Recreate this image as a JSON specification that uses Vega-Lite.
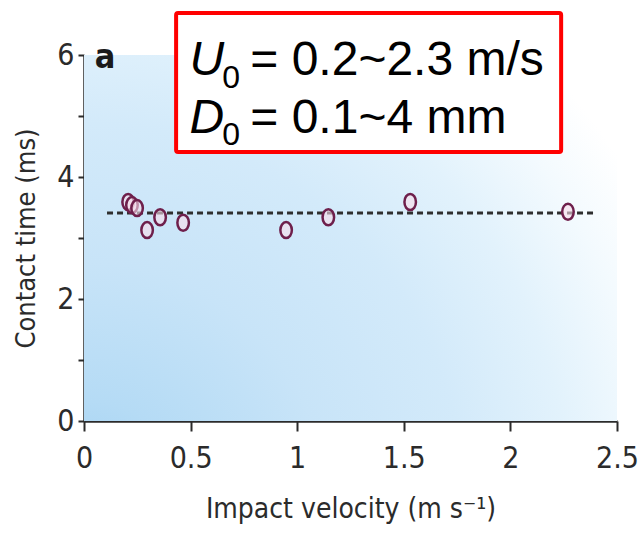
{
  "$schema": "https://vega.github.io/schema/vega-lite/v6.json",
  "width": 533,
  "height": 366,
  "autosize": {"type": "none"},
  "padding": {"left": 84, "top": 55, "right": 23, "bottom": 118},
  "background": "white",
  "config": {
    "view": {"stroke": null},
    "axis": {
      "labelFont": "'DejaVu Sans Condensed', 'Liberation Sans', sans-serif",
      "titleFont": "'DejaVu Sans Condensed', 'Liberation Sans', sans-serif",
      "labelColor": "#2b2b2b",
      "titleColor": "#2b2b2b",
      "titleFontWeight": "normal",
      "domainColor": "#2b2b2b",
      "tickColor": "#2b2b2b",
      "domainWidth": 2.5,
      "tickWidth": 2,
      "grid": false
    }
  },
  "layer": [
    {
      "data": {"values": [{"x": 0, "x2": 2.5, "y": 0, "y2": 6}]},
      "mark": {
        "type": "rect",
        "fill": {
          "gradient": "radial",
          "x1": 0, "y1": 1, "x2": 0, "y2": 1, "r1": 0, "r2": 1.3,
          "stops": [
            {"offset": 0, "color": "#9dcff2"},
            {"offset": 0.15, "color": "#b5dbf5"},
            {"offset": 0.35, "color": "#c8e4f8"},
            {"offset": 0.55, "color": "#d3eafa"},
            {"offset": 0.7, "color": "#e2f2fc"},
            {"offset": 0.82, "color": "#f3fafe"},
            {"offset": 0.92, "color": "#ffffff"}
          ]
        }
      },
      "encoding": {
        "x": {
          "field": "x", "type": "quantitative",
          "scale": {"domain": [0, 2.5], "nice": false, "zero": false},
          "axis": {
            "title": "Impact velocity (m s⁻¹)",
            "values": [0, 0.5, 1, 1.5, 2, 2.5],
            "format": "~g",
            "labelFontSize": 30,
            "titleFontSize": 28,
            "tickSize": 10,
            "labelPadding": 12,
            "titlePadding": 22,
            "labelFlush": false,
            "labelOverlap": false
          }
        },
        "x2": {"field": "x2"},
        "y": {
          "field": "y", "type": "quantitative",
          "scale": {"domain": [0, 6], "nice": false, "zero": false},
          "axis": {
            "title": "Contact time (ms)",
            "values": [0, 1, 2, 3, 4, 5, 6],
            "labelExpr": "datum.value % 2 == 0 ? format(datum.value, 'd') : ''",
            "labelFontSize": 30,
            "titleFontSize": 27,
            "tickSize": 6,
            "labelPadding": 4,
            "titlePadding": 16,
            "labelFlush": false,
            "labelOverlap": false
          }
        },
        "y2": {"field": "y2"}
      }
    },
    {
      "data": {"values": [{"x": 0.108, "x2": 2.39, "y": 3.41}]},
      "mark": {"type": "rule", "stroke": "#2e2e2e", "strokeWidth": 3, "strokeDash": [6, 4]},
      "encoding": {
        "x": {"field": "x", "type": "quantitative"},
        "x2": {"field": "x2"},
        "y": {"field": "y", "type": "quantitative"}
      }
    },
    {
      "data": {"values": [
        {"x": 0.207, "y": 3.59},
        {"x": 0.225, "y": 3.54},
        {"x": 0.249, "y": 3.49},
        {"x": 0.296, "y": 3.13},
        {"x": 0.357, "y": 3.34},
        {"x": 0.465, "y": 3.25},
        {"x": 0.948, "y": 3.13},
        {"x": 1.146, "y": 3.34},
        {"x": 1.53, "y": 3.59},
        {"x": 2.27, "y": 3.43}
      ]},
      "mark": {
        "type": "point",
        "shape": "M0,-1 A0.72,1 0 1,1 0,1 A0.72,1 0 1,1 0,-1 Z",
        "size": 256,
        "filled": false,
        "fill": "#f8dcea",
        "fillOpacity": 0.6,
        "stroke": "#6e1f4b",
        "strokeWidth": 2.5
      },
      "encoding": {
        "x": {"field": "x", "type": "quantitative"},
        "y": {"field": "y", "type": "quantitative"}
      }
    },
    {
      "data": {"values": [{"x": 0.432, "x2": 2.238, "y": 6.69, "y2": 4.41}]},
      "mark": {"type": "rect", "fill": "white", "stroke": "#ff0000", "strokeWidth": 4, "cornerRadius": 2},
      "encoding": {
        "x": {"field": "x", "type": "quantitative"},
        "x2": {"field": "x2"},
        "y": {"field": "y", "type": "quantitative"},
        "y2": {"field": "y2"}
      }
    },
    {
      "data": {"values": [
        {"x": 0.495, "y": 5.67, "label": "U"},
        {"x": 0.495, "y": 4.72, "label": "D"}
      ]},
      "mark": {"type": "text", "font": "Liberation Sans", "fontStyle": "italic", "fontSize": 48, "align": "left", "baseline": "alphabetic", "color": "black"},
      "encoding": {
        "x": {"field": "x", "type": "quantitative"},
        "y": {"field": "y", "type": "quantitative"},
        "text": {"field": "label"}
      }
    },
    {
      "data": {"values": [
        {"x": 0.648, "y": 5.46, "label": "0"},
        {"x": 0.648, "y": 4.52, "label": "0"}
      ]},
      "mark": {"type": "text", "font": "Liberation Sans", "fontSize": 32, "align": "left", "baseline": "alphabetic", "color": "black"},
      "encoding": {
        "x": {"field": "x", "type": "quantitative"},
        "y": {"field": "y", "type": "quantitative"},
        "text": {"field": "label"}
      }
    },
    {
      "data": {"values": [
        {"x": 0.78, "y": 5.67, "label": "= 0.2~2.3 m/s"},
        {"x": 0.78, "y": 4.72, "label": "= 0.1~4 mm"}
      ]},
      "mark": {"type": "text", "font": "Liberation Sans", "fontSize": 48, "align": "left", "baseline": "alphabetic", "color": "black"},
      "encoding": {
        "x": {"field": "x", "type": "quantitative"},
        "y": {"field": "y", "type": "quantitative"},
        "text": {"field": "label"}
      }
    },
    {
      "data": {"values": [{"x": 0.05, "y": 5.79, "label": "a"}]},
      "mark": {"type": "text", "font": "'DejaVu Sans Condensed', 'Liberation Sans', sans-serif", "fontWeight": "bold", "fontSize": 34, "align": "left", "baseline": "alphabetic", "color": "#1a1a1a"},
      "encoding": {
        "x": {"field": "x", "type": "quantitative"},
        "y": {"field": "y", "type": "quantitative"},
        "text": {"field": "label"}
      }
    }
  ]
}
